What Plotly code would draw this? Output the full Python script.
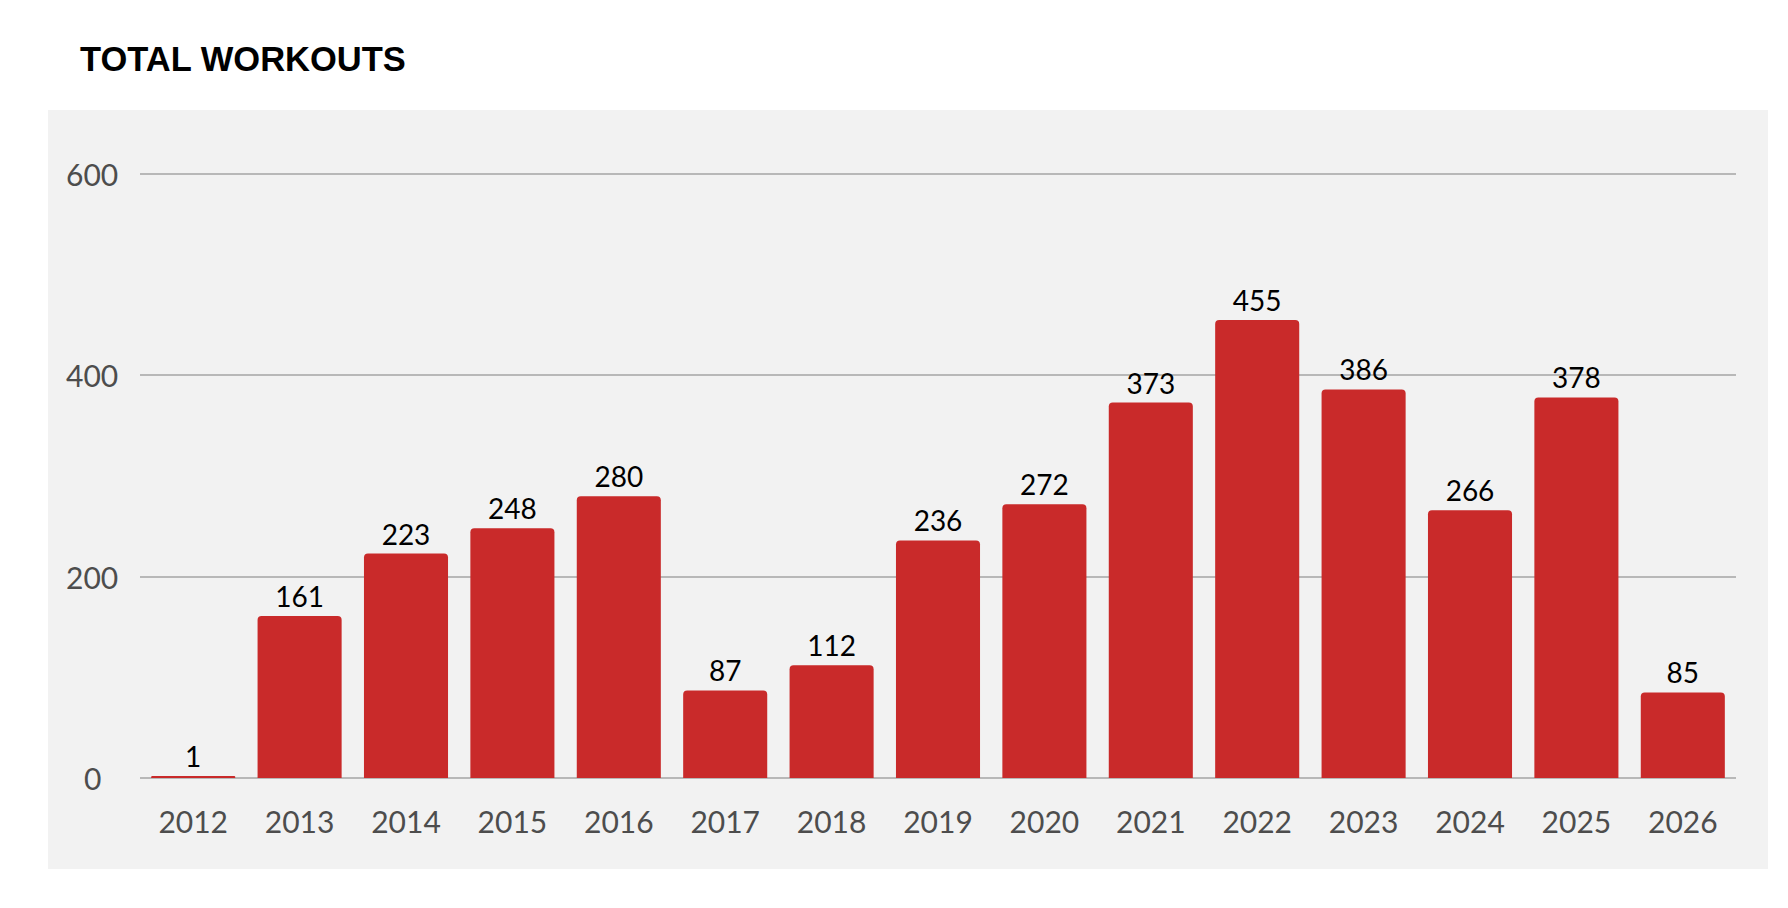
import plotly.graph_objects as go

years = ["2012", "2013", "2014", "2015", "2016", "2017", "2018", "2019",
         "2020", "2021", "2022", "2023", "2024", "2025", "2026"]
workouts = [1, 161, 223, 248, 280, 87, 112, 236, 272, 373, 455, 386, 266, 378, 85]
y_ticks = [0, 200, 400, 600]
title_text = "TOTAL WORKOUTS"

W, H = 1788, 908
Y_MAX = 603
L, R, B = 140, 52, 130
T = H - B - round(Y_MAX * 201.3 / 200)
pw, ph = W - L - R, H - T - B


def px_x(x):
    return (x - L) / pw


def px_y(y):
    return (H - B - y) / ph


BAR = "#C92A2A"
FONT = "Lato, 'Open Sans', sans-serif"
TICK_COLOR = "#4D4D4D"
GRID = "#B8B8B8"

fig = go.Figure(
    go.Bar(
        x=years,
        y=workouts,
        marker=dict(color=BAR, line=dict(width=0), cornerradius=4),
        text=[str(v) for v in workouts],
        textposition="outside",
        textfont=dict(family=FONT, size=28, color="#000000"),
        cliponaxis=False,
        hoverinfo="x+y",
    )
)

# y tick labels, centred like the reference
annotations = [
    dict(
        x=px_x(92),
        xref="paper",
        y=v,
        yref="y",
        text=str(v),
        showarrow=False,
        xanchor="center",
        yanchor="middle",
        font=dict(family=FONT, size=30, color=TICK_COLOR),
    )
    for v in y_ticks
]

fig.update_layout(
    width=W,
    height=H,
    margin=dict(l=L, r=R, t=T, b=B, pad=0),
    paper_bgcolor="#FFFFFF",
    plot_bgcolor="rgba(0,0,0,0)",
    bargap=0.21,
    showlegend=False,
    annotations=annotations,
    title=dict(
        text="<b>" + title_text + "</b>",
        x=80 / W,
        xanchor="left",
        xref="container",
        y=1 - 59 / H,
        yanchor="middle",
        yref="container",
        font=dict(family="'Liberation Sans', Arial, sans-serif", size=34.5, color="#000000"),
    ),
    shapes=[
        dict(
            type="rect",
            xref="paper",
            yref="paper",
            x0=px_x(48),
            x1=px_x(1768),
            y0=px_y(869),
            y1=px_y(110),
            fillcolor="#F2F2F2",
            line=dict(width=0),
            layer="below",
        )
    ],
    xaxis=dict(
        type="category",
        showgrid=False,
        showline=False,
        ticks="outside",
        ticklen=18,
        tickcolor="rgba(0,0,0,0)",
        tickfont=dict(family=FONT, size=30, color=TICK_COLOR),
        fixedrange=True,
    ),
    yaxis=dict(
        range=[0, Y_MAX],
        tickvals=y_ticks,
        showticklabels=False,
        showgrid=True,
        gridcolor=GRID,
        gridwidth=1.5,
        zeroline=True,
        zerolinecolor=GRID,
        zerolinewidth=1.6,
        showline=False,
        ticks="",
        fixedrange=True,
    ),
)

fig.write_html(
    "out.html",
    config={"displayModeBar": False},
    post_script="document.body.style.margin='0';document.body.style.padding='0';",
)
